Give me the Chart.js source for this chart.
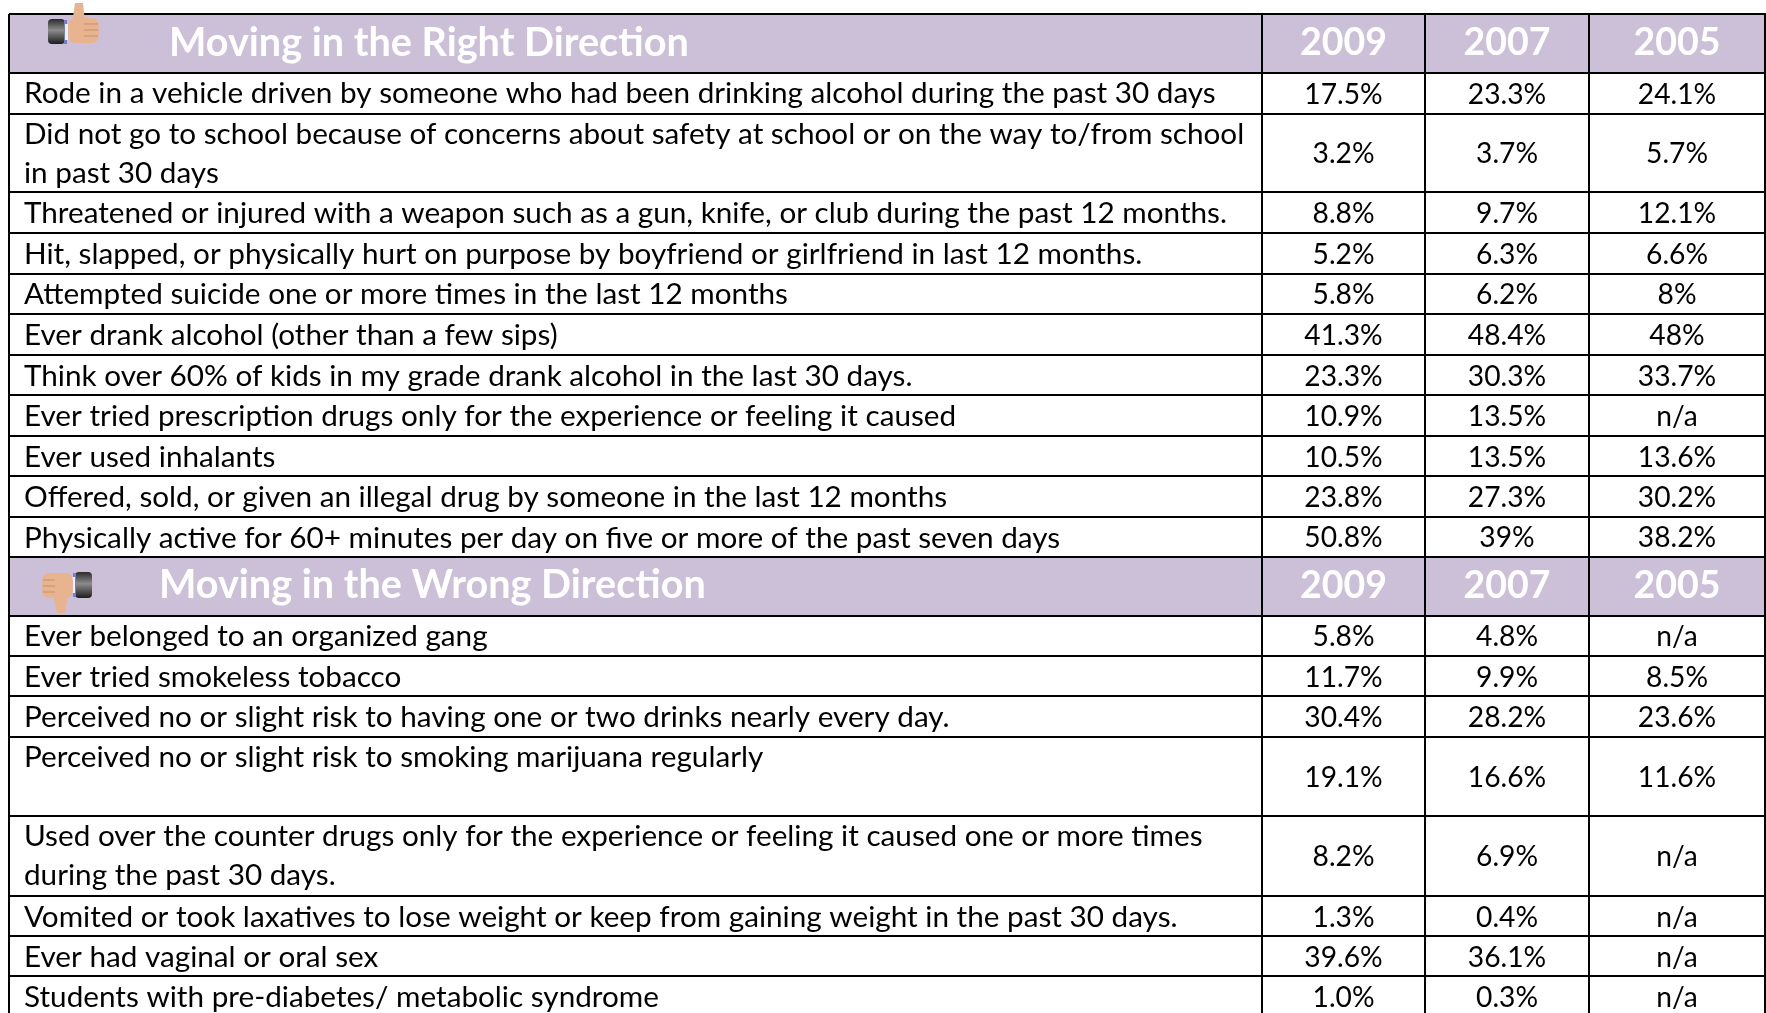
<!DOCTYPE html>
<html>
<head>
<meta charset="utf-8">
<title>Moving in the Right Direction</title>
<script src="https://cdn.jsdelivr.net/npm/chart.js@4"></script>
<style>
  html, body { margin: 0; padding: 0; background: #fff; overflow: hidden; }
  canvas { display: block; }
</style>
</head>
<body>
<canvas id="tabela" width="1766" height="1013"></canvas>
<script>
const anos = ["2009", "2007", "2005"];
const tituloCerto = "Moving in the Right Direction";
const tituloErrado = "Moving in the Wrong Direction";

const linhasCerto = [
  ["Rode in a vehicle driven by someone who had been drinking alcohol during the past 30 days"],
  ["Did not go to school because of concerns about safety at school or on the way to/from school", "in past 30 days"],
  ["Threatened or injured with a weapon such as a gun, knife, or club during the past 12 months."],
  ["Hit, slapped, or physically hurt on purpose by boyfriend or girlfriend in last 12 months."],
  ["Attempted suicide one or more times in the last 12 months"],
  ["Ever drank alcohol (other than a few sips)"],
  ["Think over 60% of kids in my grade drank alcohol in the last 30 days."],
  ["Ever tried prescription drugs only for the experience or feeling it caused"],
  ["Ever used inhalants"],
  ["Offered, sold, or given an illegal drug by someone in the last 12 months"],
  ["Physically active for 60+ minutes per day on five or more of the past seven days"]
];
const certo2009 = ["17.5%", "3.2%", "8.8%", "5.2%", "5.8%", "41.3%", "23.3%", "10.9%", "10.5%", "23.8%", "50.8%"];
const certo2007 = ["23.3%", "3.7%", "9.7%", "6.3%", "6.2%", "48.4%", "30.3%", "13.5%", "13.5%", "27.3%", "39%"];
const certo2005 = ["24.1%", "5.7%", "12.1%", "6.6%", "8%", "48%", "33.7%", "n/a", "13.6%", "30.2%", "38.2%"];

const linhasErrado = [
  ["Ever belonged to an organized gang"],
  ["Ever tried smokeless tobacco"],
  ["Perceived no or slight risk to having one or two drinks nearly every day."],
  ["Perceived no or slight risk to smoking marijuana regularly"],
  ["Used over the counter drugs only for the experience or feeling it caused one or more times", "during the past 30 days."],
  ["Vomited or took laxatives to lose weight or keep from gaining weight in the past 30 days."],
  ["Ever had vaginal or oral sex"],
  ["Students with pre-diabetes/ metabolic syndrome"]
];
const errado2009 = ["5.8%", "11.7%", "30.4%", "19.1%", "8.2%", "1.3%", "39.6%", "1.0%"];
const errado2007 = ["4.8%", "9.9%", "28.2%", "16.6%", "6.9%", "0.4%", "36.1%", "0.3%"];
const errado2005 = ["n/a", "8.5%", "23.6%", "11.6%", "n/a", "n/a", "n/a", "n/a"];

// grade da tabela, em unidades das escalas
const colunas = [9, 1262, 1425, 1589, 1765];
const bordasCerto = [72.5, 113.5, 192, 233, 273.5, 314, 355, 395, 436, 476, 517, 556.5];
const bordasErrado = [615.5, 656, 696, 736.5, 815.5, 896, 936, 976, 1016];
const topo = 14;
const fimX = 1766;
const fimY = 1013;

const COR_FAIXA = "#CCC0D9";
const FONTE = "Lato, 'Open Sans', sans-serif";
const TEXTO_X = 24;
const ENTRELINHA = 39;

function meio(a, b) { return (a + b) / 2; }

function pontosRotulos(linhas, bordas) {
  const pts = [];
  linhas.forEach((l, i) => {
    l.forEach((t, j) => pts.push({ x: TEXTO_X, y: bordas[i] + 21 + j * ENTRELINHA, text: t }));
  });
  return pts;
}

function pontosValores(valores, bordas, col) {
  return valores.map((v, i) => ({ x: meio(colunas[col], colunas[col + 1]), y: meio(bordas[i], bordas[i + 1]) + 1.5, text: v }));
}

function faixa(yBase, yTopo) {
  return {
    data: [{ x: colunas[0], y: yBase }, { x: fimX, y: yBase }],
    fill: { value: yTopo }, backgroundColor: COR_FAIXA, borderWidth: 0, pointRadius: 0
  };
}

function textos(data, align, font, color) {
  return { data, showLine: false, pointRadius: 0, celula: { align, font, color } };
}

const fonteRotulo = `29.7px ${FONTE}`;
const fonteValor = `28.2px ${FONTE}`;
const fonteTitulo = `bold 39.6px ${FONTE}`;
const fonteAno = `bold 37.5px ${FONTE}`;
const datasets = [
  faixa(bordasCerto[0], topo),
  faixa(bordasErrado[0], bordasCerto[bordasCerto.length - 1]),
  textos(pontosRotulos(linhasCerto, bordasCerto), "left", fonteRotulo, "#000"),
  textos(pontosRotulos(linhasErrado, bordasErrado), "left", fonteRotulo, "#000"),
  textos([
    { x: 169, y: 43, text: tituloCerto },
    { x: 159, y: 585.5, text: tituloErrado }
  ], "left", fonteTitulo, "#fff")
];
[certo2009, certo2007, certo2005].forEach((v, c) => datasets.push(textos(pontosValores(v, bordasCerto, c + 1), "center", fonteValor, "#000")));
[errado2009, errado2007, errado2005].forEach((v, c) => datasets.push(textos(pontosValores(v, bordasErrado, c + 1), "center", fonteValor, "#000")));
anos.forEach((a, c) => {
  const x = meio(colunas[c + 1], colunas[c + 2]);
  datasets.push(textos([{ x, y: 43, text: a }, { x, y: 585.5, text: a }], "center", fonteAno, "#fff"));
});

function redondo(ctx, x, y, w, h, r) {
  ctx.beginPath();
  ctx.roundRect(x, y, w, h, r);
  ctx.fill();
}

function punho(ctx, x, y, w, h) {
  const g = ctx.createLinearGradient(0, y, 0, y + h);
  g.addColorStop(0, "#2b2b2b");
  g.addColorStop(0.45, "#8c8c8c");
  g.addColorStop(1, "#1c1c1c");
  ctx.fillStyle = g;
  redondo(ctx, x, y, w, h, 4);
}

function dedos(ctx, x0, x1, ys) {
  ctx.strokeStyle = "#C98F6B";
  ctx.lineWidth = 1;
  ys.forEach(y => {
    ctx.beginPath();
    ctx.moveTo(x0, y);
    ctx.lineTo(x1, y);
    ctx.stroke();
  });
}

function desenharPolegares(ctx) {
  const pele = "#E8B48F";
  // para cima
  punho(ctx, 48, 19, 17, 25);
  ctx.fillStyle = "#6f7fd8";
  ctx.fillRect(64, 20, 3, 24);
  ctx.fillStyle = "#f0f0f4";
  ctx.fillRect(65, 24, 3, 16);
  ctx.fillStyle = pele;
  redondo(ctx, 68, 18, 31, 25, 7);
  ctx.beginPath();
  ctx.moveTo(75, 3);
  ctx.lineTo(83, 3);
  ctx.lineTo(85, 22);
  ctx.lineTo(72, 24);
  ctx.closePath();
  ctx.fill();
  dedos(ctx, 84, 98, [24, 30, 36]);
  // para baixo
  punho(ctx, 75, 572, 17, 26);
  ctx.fillStyle = "#6f7fd8";
  ctx.fillRect(73, 573, 3, 24);
  ctx.fillStyle = "#f0f0f4";
  ctx.fillRect(72, 577, 3, 16);
  ctx.fillStyle = pele;
  redondo(ctx, 42, 573, 31, 25, 7);
  ctx.beginPath();
  ctx.moveTo(53, 596);
  ctx.lineTo(68, 596);
  ctx.lineTo(65, 613);
  ctx.lineTo(57, 613);
  ctx.closePath();
  ctx.fill();
  dedos(ctx, 43, 55, [580, 586, 592]);
}

const pluginCelulas = {
  id: "celulas",
  afterDraw(chart) {
    const ctx = chart.ctx;
    ctx.save();
    ctx.textBaseline = "middle";
    chart.data.datasets.forEach((ds, i) => {
      if (!ds.celula) return;
      ctx.font = ds.celula.font;
      ctx.fillStyle = ds.celula.color;
      ctx.textAlign = ds.celula.align;
      chart.getDatasetMeta(i).data.forEach((p, k) => ctx.fillText(ds.data[k].text, p.x, p.y));
    });
    desenharPolegares(ctx);
    ctx.restore();
  }
};

const grade = { color: "#000", lineWidth: 2, drawTicks: false, z: 1 };

new Chart(document.getElementById("tabela").getContext("2d"), {
  type: "line",
  data: { datasets },
  plugins: [pluginCelulas],
  options: {
    responsive: false,
    animation: false,
    events: [],
    layout: { padding: { left: colunas[0], top: topo, right: 0, bottom: 0 } },
    plugins: { legend: { display: false }, tooltip: { enabled: false } },
    scales: {
      x: {
        type: "linear", min: colunas[0], max: fimX,
        grid: grade, border: { display: false },
        ticks: { display: false },
        afterBuildTicks: s => { s.ticks = colunas.map(value => ({ value })); }
      },
      y: {
        type: "linear", min: topo, max: fimY, reverse: true,
        grid: grade, border: { display: false },
        ticks: { display: false },
        afterBuildTicks: s => {
          s.ticks = [topo, ...bordasCerto, ...bordasErrado].filter(v => v <= fimY).map(value => ({ value }));
        }
      }
    }
  }
});
</script>
</body>
</html>
